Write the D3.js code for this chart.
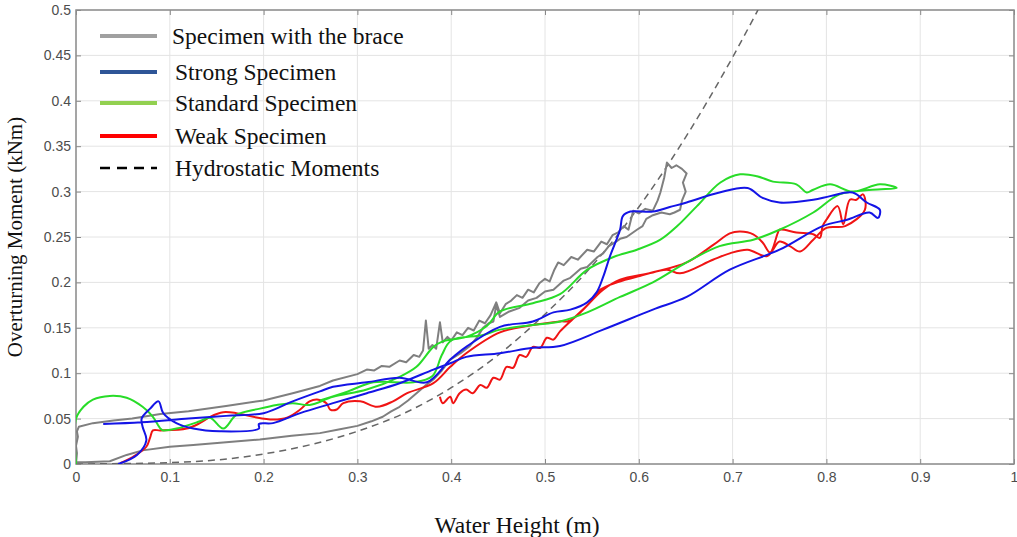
<!DOCTYPE html>
<html>
<head>
<meta charset="utf-8">
<script src="https://cdn.jsdelivr.net/npm/d3@7"></script>
<style>
  body { margin: 0; background: #fff; }
  svg { display: block; }
</style>
</head>
<body>
<div id="chart"></div>
<script>
// tick values
const xTicks = [0, 0.1, 0.2, 0.3, 0.4, 0.5, 0.6, 0.7, 0.8, 0.9, 1];
const yTicks = [0, 0.05, 0.1, 0.15, 0.2, 0.25, 0.3, 0.35, 0.4, 0.45, 0.5];

const legendNames = ['Specimen with the brace', 'Strong Specimen', 'Standard Specimen', 'Weak Specimen', 'Hydrostatic Moments'];

// [water height (m), moment (kNm)]
const braceData = [
  [0, 0], [0.001, 0.012], [0.0, 0.02], [0.002, 0.03], [0.001, 0.036], [0.003, 0.041],
  [0.018, 0.045], [0.04, 0.048], [0.06, 0.05], [0.09, 0.055], [0.12, 0.058], [0.16, 0.064],
  [0.2, 0.07], [0.231, 0.078], [0.26, 0.086], [0.274, 0.092], [0.3, 0.099], [0.31, 0.104],
  [0.318, 0.103], [0.326, 0.108], [0.334, 0.107], [0.345, 0.114], [0.352, 0.112], [0.36, 0.12],
  [0.366, 0.118], [0.37, 0.125], [0.373, 0.158], [0.376, 0.127], [0.38, 0.131], [0.384, 0.127],
  [0.388, 0.156], [0.391, 0.134], [0.396, 0.14], [0.4, 0.136], [0.406, 0.145], [0.412, 0.142],
  [0.418, 0.15], [0.424, 0.147], [0.43, 0.158], [0.436, 0.155], [0.442, 0.164], [0.448, 0.178],
  [0.452, 0.166], [0.458, 0.176], [0.464, 0.18], [0.47, 0.186], [0.476, 0.183], [0.482, 0.192],
  [0.488, 0.189], [0.494, 0.199], [0.5, 0.204], [0.505, 0.201], [0.51, 0.214], [0.514, 0.222],
  [0.52, 0.219], [0.528, 0.228], [0.535, 0.225], [0.545, 0.236], [0.552, 0.234], [0.56, 0.245],
  [0.566, 0.242], [0.572, 0.252], [0.578, 0.255], [0.584, 0.262], [0.589, 0.258], [0.594, 0.279],
  [0.6, 0.276], [0.607, 0.281], [0.615, 0.279], [0.62, 0.29], [0.623, 0.299], [0.627, 0.315],
  [0.63, 0.332], [0.635, 0.326], [0.64, 0.329], [0.646, 0.325], [0.651, 0.32], [0.647, 0.31],
  [0.65, 0.3], [0.646, 0.29], [0.644, 0.28], [0.638, 0.277], [0.633, 0.275], [0.624, 0.277],
  [0.615, 0.274], [0.608, 0.27], [0.604, 0.262], [0.598, 0.258], [0.587, 0.25], [0.58, 0.248],
  [0.573, 0.243], [0.568, 0.24], [0.562, 0.232], [0.556, 0.228], [0.545, 0.217], [0.538, 0.215],
  [0.527, 0.205], [0.52, 0.202], [0.509, 0.192], [0.5, 0.19], [0.491, 0.183], [0.482, 0.18],
  [0.473, 0.172], [0.462, 0.168], [0.452, 0.162], [0.448, 0.175], [0.445, 0.157], [0.44, 0.155],
  [0.434, 0.15], [0.428, 0.14], [0.42, 0.13], [0.41, 0.122], [0.399, 0.115], [0.39, 0.103],
  [0.381, 0.093], [0.372, 0.086], [0.363, 0.078], [0.354, 0.07], [0.345, 0.063], [0.336, 0.058],
  [0.327, 0.052], [0.315, 0.047], [0.3, 0.042], [0.28, 0.038], [0.26, 0.034], [0.23, 0.031],
  [0.196, 0.027], [0.16, 0.024], [0.125, 0.021], [0.1, 0.019], [0.071, 0.015], [0.054, 0.01],
  [0.036, 0.003], [0.01, 0.002], [0, 0.002]
];

const strongData = [
  [0.029, 0.044], [0.07, 0.046], [0.12, 0.05], [0.16, 0.053], [0.2, 0.056], [0.231, 0.069],
  [0.26, 0.08], [0.274, 0.085], [0.31, 0.09], [0.345, 0.095], [0.374, 0.09], [0.399, 0.115],
  [0.416, 0.129], [0.452, 0.151], [0.487, 0.157], [0.509, 0.167], [0.527, 0.17], [0.545, 0.178],
  [0.555, 0.189], [0.562, 0.206], [0.569, 0.228], [0.58, 0.258], [0.583, 0.273], [0.591, 0.278],
  [0.615, 0.278], [0.633, 0.283], [0.651, 0.288], [0.686, 0.299], [0.716, 0.304], [0.732, 0.293],
  [0.75, 0.288], [0.786, 0.291], [0.804, 0.295], [0.828, 0.299], [0.843, 0.288], [0.857, 0.28],
  [0.855, 0.271], [0.846, 0.277], [0.822, 0.269], [0.796, 0.262], [0.75, 0.236], [0.697, 0.214],
  [0.651, 0.184], [0.615, 0.17], [0.562, 0.148], [0.516, 0.13], [0.487, 0.128], [0.452, 0.122],
  [0.416, 0.118], [0.399, 0.111], [0.381, 0.104], [0.345, 0.089], [0.31, 0.078], [0.274, 0.067],
  [0.239, 0.056], [0.21, 0.045], [0.195, 0.044], [0.195, 0.039], [0.153, 0.036], [0.125, 0.039],
  [0.107, 0.045], [0.093, 0.056], [0.088, 0.069], [0.079, 0.061], [0.07, 0.05], [0.071, 0.041],
  [0.075, 0.026], [0.065, 0.01], [0.045, 0.0]
];

const standardData = [
  [0, 0], [0, 0.05], [0.008, 0.063], [0.018, 0.071], [0.036, 0.075], [0.054, 0.073],
  [0.071, 0.063], [0.082, 0.052], [0.09, 0.039], [0.093, 0.037], [0.107, 0.039], [0.132, 0.047],
  [0.143, 0.051], [0.157, 0.039], [0.171, 0.054], [0.196, 0.061], [0.214, 0.065], [0.231, 0.067],
  [0.249, 0.065], [0.274, 0.074], [0.31, 0.082], [0.345, 0.096], [0.363, 0.107], [0.381, 0.129],
  [0.391, 0.135], [0.416, 0.14], [0.438, 0.152], [0.452, 0.168], [0.487, 0.177], [0.516, 0.187],
  [0.545, 0.214], [0.573, 0.228], [0.598, 0.236], [0.623, 0.247], [0.641, 0.262], [0.662, 0.284],
  [0.687, 0.31], [0.708, 0.319], [0.726, 0.317], [0.743, 0.311], [0.768, 0.308], [0.779, 0.299],
  [0.786, 0.302], [0.804, 0.308], [0.828, 0.3], [0.857, 0.308], [0.875, 0.304], [0.849, 0.302],
  [0.814, 0.297], [0.786, 0.277], [0.75, 0.258], [0.722, 0.247], [0.686, 0.24], [0.651, 0.222],
  [0.615, 0.2], [0.58, 0.184], [0.545, 0.167], [0.516, 0.157], [0.487, 0.153], [0.452, 0.148],
  [0.434, 0.142], [0.4, 0.136], [0.39, 0.12], [0.38, 0.097], [0.36, 0.09], [0.317, 0.09],
  [0.29, 0.08], [0.26, 0.07]
];

const weakData = [
  [0.047, 0.001], [0.061, 0.008], [0.075, 0.019], [0.079, 0.029], [0.082, 0.037], [0.09, 0.037],
  [0.118, 0.039], [0.132, 0.045], [0.143, 0.052], [0.157, 0.057], [0.171, 0.056], [0.189, 0.052],
  [0.21, 0.049], [0.225, 0.051], [0.239, 0.06], [0.249, 0.069], [0.257, 0.071], [0.267, 0.067],
  [0.271, 0.06], [0.278, 0.06], [0.285, 0.067], [0.303, 0.069], [0.321, 0.063], [0.338, 0.069],
  [0.353, 0.078], [0.381, 0.089], [0.399, 0.107], [0.416, 0.122], [0.452, 0.145], [0.487, 0.153],
  [0.516, 0.157], [0.527, 0.158], [0.562, 0.192], [0.58, 0.203], [0.615, 0.211], [0.651, 0.222],
  [0.679, 0.241], [0.697, 0.254], [0.708, 0.256], [0.722, 0.253], [0.732, 0.244], [0.74, 0.233],
  [0.748, 0.254], [0.75, 0.258], [0.768, 0.255], [0.786, 0.253], [0.793, 0.249], [0.796, 0.262],
  [0.8, 0.269], [0.812, 0.284], [0.818, 0.264], [0.825, 0.291], [0.832, 0.291], [0.839, 0.297],
  [0.841, 0.28], [0.82, 0.262], [0.8, 0.26], [0.786, 0.247], [0.772, 0.234], [0.761, 0.24],
  [0.75, 0.245], [0.737, 0.229], [0.716, 0.236], [0.697, 0.232], [0.679, 0.225], [0.644, 0.21],
  [0.63, 0.214], [0.601, 0.207], [0.577, 0.2], [0.559, 0.192], [0.548, 0.178], [0.53, 0.16],
  [0.516, 0.146], [0.509, 0.137], [0.502, 0.139], [0.495, 0.128], [0.487, 0.129], [0.48, 0.118],
  [0.473, 0.12], [0.466, 0.106], [0.459, 0.107], [0.452, 0.093], [0.445, 0.095], [0.438, 0.084],
  [0.431, 0.087], [0.423, 0.078], [0.416, 0.082], [0.409, 0.078], [0.402, 0.067], [0.399, 0.074],
  [0.391, 0.067], [0.388, 0.074]
];

const hydroData = [
  [0, 0], [0.1, 0.0015], [0.2, 0.011], [0.3, 0.036], [0.35, 0.056], [0.4, 0.084], [0.45, 0.12],
  [0.5, 0.165], [0.55, 0.218], [0.6, 0.283], [0.65, 0.36], [0.7, 0.448], [0.727, 0.5]
];

const W = 1017, H = 537;
const plotL = 76, plotR = 1014, plotT = 10, plotB = 464;
const serif = '"Liberation Serif", "Times New Roman", serif';

const svg = d3.select('#chart').append('svg')
  .attr('width', W)
  .attr('height', H);

const x = d3.scaleLinear().domain([0, 1]).range([plotL, plotR]);
const y = d3.scaleLinear().domain([0, 0.5]).range([plotB, plotT]);

// grid
const grid = svg.append('g');
xTicks.forEach(t => {
  grid.append('line')
    .attr('x1', x(t)).attr('x2', x(t))
    .attr('y1', plotT).attr('y2', plotB)
    .attr('stroke', '#e4e4e4').attr('stroke-width', 1);
});
yTicks.forEach(t => {
  grid.append('line')
    .attr('x1', plotL).attr('x2', plotR)
    .attr('y1', y(t)).attr('y2', y(t))
    .attr('stroke', '#e4e4e4').attr('stroke-width', 1);
});

// axes, ticks point inward
const fmt = d => String(d);
const axisFont = '"Liberation Sans", Arial, sans-serif';

const xAxis = svg.append('g')
  .attr('transform', `translate(0,${plotB})`)
  .call(d3.axisBottom(x).tickValues(xTicks).tickFormat(fmt).tickSizeInner(-5).tickSizeOuter(0).tickPadding(8));
const yAxis = svg.append('g')
  .attr('transform', `translate(${plotL},0)`)
  .call(d3.axisLeft(y).tickValues(yTicks).tickFormat(fmt).tickSizeInner(-5).tickSizeOuter(0).tickPadding(5));
const xTop = svg.append('g')
  .attr('transform', `translate(0,${plotT})`)
  .call(d3.axisTop(x).tickValues(xTicks).tickFormat('').tickSizeInner(-5).tickSizeOuter(0));
const yRight = svg.append('g')
  .attr('transform', `translate(${plotR},0)`)
  .call(d3.axisRight(y).tickValues(yTicks).tickFormat('').tickSizeInner(-5).tickSizeOuter(0));

[xAxis, yAxis, xTop, yRight].forEach(a => {
  a.select('.domain').remove();
  a.selectAll('.tick line').attr('stroke', '#888');
  a.selectAll('.tick text')
    .style('font-family', axisFont)
    .style('font-size', '14px')
    .style('fill', '#4d4d4d');
});

// frame
svg.append('rect')
  .attr('x', plotL).attr('y', plotT)
  .attr('width', plotR - plotL).attr('height', plotB - plotT)
  .attr('fill', 'none')
  .attr('stroke', '#8c8c8c')
  .attr('stroke-width', 1.5);

svg.append('clipPath').attr('id', 'plot-clip')
  .append('rect')
  .attr('x', plotL).attr('y', plotT)
  .attr('width', plotR - plotL).attr('height', plotB - plotT);

const plot = svg.append('g').attr('clip-path', 'url(#plot-clip)');

const curvy = d3.line()
  .x(d => x(d[0]))
  .y(d => y(d[1]))
  .curve(d3.curveCatmullRom.alpha(0.5));

const jagged = d3.line()
  .x(d => x(d[0]))
  .y(d => y(d[1]));

const smooth = d3.line()
  .x(d => x(d[0]))
  .y(d => y(d[1]))
  .curve(d3.curveMonotoneX);

plot.append('path')
  .datum(hydroData)
  .attr('d', smooth)
  .attr('fill', 'none')
  .attr('stroke', '#666')
  .attr('stroke-width', 1.5)
  .attr('stroke-dasharray', '7,5');

const series = [
  { data: braceData, color: '#7f7f7f', w: 2, gen: jagged },
  { data: weakData, color: '#f01414', w: 2, gen: curvy },
  { data: standardData, color: '#28dc28', w: 2, gen: curvy },
  { data: strongData, color: '#1414e6', w: 2, gen: curvy }
];

series.forEach(s => {
  plot.append('path')
    .datum(s.data)
    .attr('d', s.gen)
    .attr('fill', 'none')
    .attr('stroke', s.color)
    .attr('stroke-width', s.w)
    .attr('stroke-linejoin', 'round');
});

// legend
const legendColors = ['#a0a0a0', '#2e5597', '#92d050', '#ff0000', '#000'];
const legendY = [36, 72, 103, 136, 168];
const legendTextX = [172, 175, 175, 175, 175];
const legend = svg.append('g');
legendNames.forEach((name, i) => {
  legend.append('line')
    .attr('x1', 100).attr('x2', 157)
    .attr('y1', legendY[i]).attr('y2', legendY[i])
    .attr('stroke', legendColors[i])
    .attr('stroke-width', i === 4 ? 2.5 : 4)
    .attr('stroke-dasharray', i === 4 ? '10,7' : null);
  legend.append('text')
    .attr('x', legendTextX[i])
    .attr('y', legendY[i] + 8)
    .style('font-family', serif)
    .style('font-size', '23.5px')
    .style('fill', '#111')
    .text(name);
});

// axis titles
svg.append('text')
  .attr('transform', 'translate(22,237) rotate(-90)')
  .attr('text-anchor', 'middle')
  .style('font-family', serif)
  .style('font-size', '21px')
  .style('fill', '#111')
  .text('Overturning Moment (kNm)');

svg.append('text')
  .attr('x', 517)
  .attr('y', 533)
  .attr('text-anchor', 'middle')
  .style('font-family', serif)
  .style('font-size', '23.5px')
  .style('fill', '#111')
  .text('Water Height (m)');
</script>
</body>
</html>
